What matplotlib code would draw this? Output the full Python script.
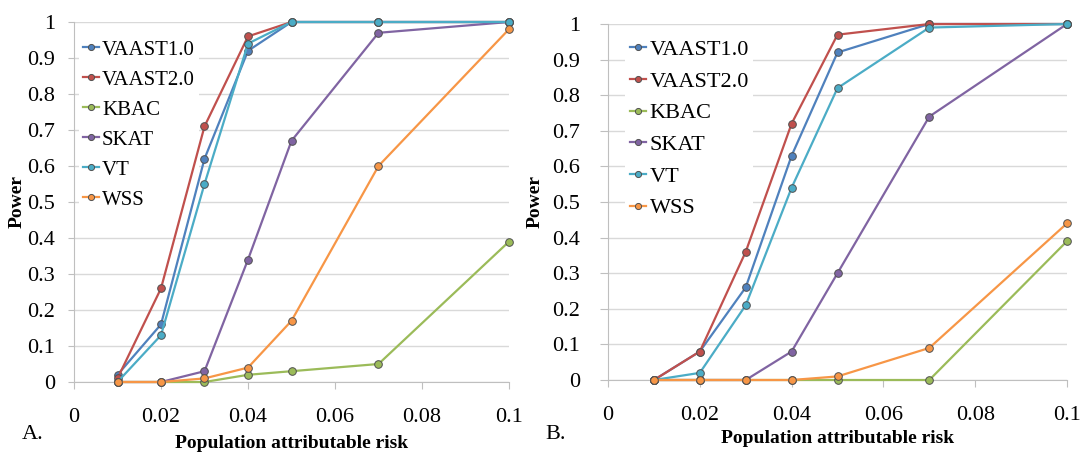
import matplotlib
matplotlib.use('Agg')
import matplotlib.pyplot as plt

plt.rcParams['font.family'] = ['Liberation Serif', 'DejaVu Serif']

# population attributable risk
par = [0.01, 0.02, 0.03, 0.04, 0.05, 0.07, 0.1]
methods = ['VAAST1.0', 'VAAST2.0', 'KBAC', 'SKAT', 'VT', 'WSS']
colors = ['#4F81BD', '#C0504D', '#9BBB59', '#8064A2', '#4BACC6', '#F79646']

# panel A
power_a = {
    'VAAST1.0': [0.02, 0.16, 0.62, 0.92, 1.0, 1.0, 1.0],
    'VAAST2.0': [0.01, 0.26, 0.71, 0.96, 1.0, 1.0, 1.0],
    'KBAC':     [0.0, 0.0, 0.0, 0.02, 0.03, 0.05, 0.39],
    'SKAT':     [0.0, 0.0, 0.03, 0.34, 0.67, 0.97, 1.0],
    'VT':       [0.0, 0.13, 0.55, 0.94, 1.0, 1.0, 1.0],
    'WSS':      [0.0, 0.0, 0.01, 0.04, 0.17, 0.60, 0.98],
}

# panel B
power_b = {
    'VAAST1.0': [0.0, 0.08, 0.26, 0.63, 0.92, 1.0, 1.0],
    'VAAST2.0': [0.0, 0.08, 0.36, 0.72, 0.97, 1.0, 1.0],
    'KBAC':     [0.0, 0.0, 0.0, 0.0, 0.0, 0.0, 0.39],
    'SKAT':     [0.0, 0.0, 0.0, 0.08, 0.30, 0.74, 1.0],
    'VT':       [0.0, 0.02, 0.21, 0.54, 0.82, 0.99, 1.0],
    'WSS':      [0.0, 0.0, 0.0, 0.0, 0.01, 0.09, 0.44],
}

fig = plt.figure(figsize=(10.82, 4.54), dpi=100)
ax_a = fig.add_axes([74 / 1082, 1 - 382 / 454, 435 / 1082, 360 / 454])
ax_b = fig.add_axes([608 / 1082, 1 - 380 / 454, 459 / 1082, 356 / 454])


def draw(ax, data, tag, tag_x, ylen, ypad, xpad, ylpad, xlpad, leg_x, leg_y, leg_fs, leg_sp):
    for name, col in zip(methods, colors):
        ax.plot(par, data[name], color=col, lw=1.6, marker='o', ms=5.5,
                mfc=col, mec='#505050', mew=0.7, label=name, clip_on=False, zorder=3)
    ax.set_xlim(0, 0.1)
    ax.set_ylim(0, 1)
    ax.set_xticks([0, 0.02, 0.04, 0.06, 0.08, 0.1])
    ax.set_xticklabels(['0', '0.02', '0.04', '0.06', '0.08', '0.1'])
    ax.set_yticks([i / 10 for i in range(11)])
    ax.set_yticklabels(['0'] + ['%.1f' % (i / 10) for i in range(1, 10)] + ['1'])
    ax.grid(axis='y', color='#D9D9D9', lw=1)
    ax.set_axisbelow(True)
    for s in ['top', 'right']:
        ax.spines[s].set_visible(False)
    for s in ['left', 'bottom']:
        ax.spines[s].set_color('#BFBFBF')
    ax.tick_params(axis='y', length=ylen, color='#BFBFBF', labelsize=16, pad=ypad)
    ax.tick_params(axis='x', length=5, color='#BFBFBF', labelsize=16, pad=xpad)
    ax.set_xlabel('Population attributable risk', fontsize=14, fontweight='bold', labelpad=xlpad)
    ax.set_ylabel('Power', fontsize=14, fontweight='bold', labelpad=ylpad)
    leg = ax.legend(loc='upper left', bbox_to_anchor=(leg_x, leg_y), fontsize=leg_fs,
                    handlelength=0.75, handletextpad=0.15, labelspacing=leg_sp,
                    borderpad=0.2, frameon=True, fancybox=False, framealpha=1,
                    edgecolor='none', markerscale=0.8)
    leg.set_zorder(2)
    fig.text(tag_x, 15 / 454, tag, fontsize=16)


draw(ax_a, power_a, 'A.', 22 / 1082, ylen=4.5, ypad=9, xpad=13.5, ylpad=1, xlpad=6,
     leg_x=-0.012, leg_y=0.99, leg_fs=15, leg_sp=0.5)
draw(ax_b, power_b, 'B.', 545 / 1082, ylen=6, ypad=14, xpad=14, ylpad=6, xlpad=3.5,
     leg_x=0.013, leg_y=1.0, leg_fs=16, leg_sp=0.5)

fig.savefig('out.png', dpi=100)
